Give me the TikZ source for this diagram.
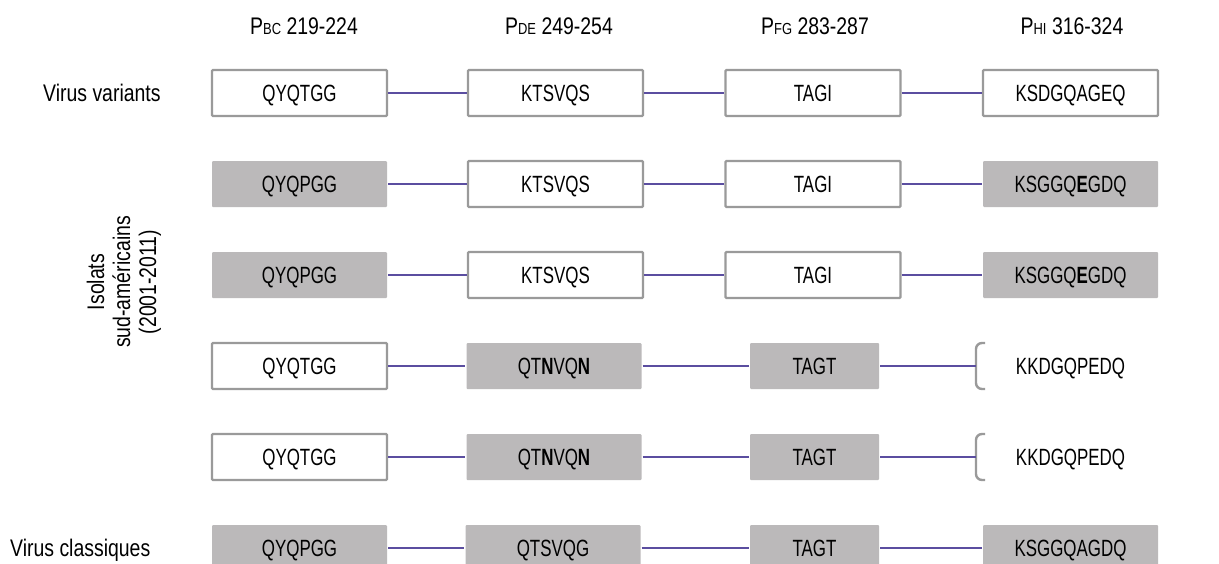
\documentclass[tikz,border=0pt]{standalone}
\usepackage{fontspec}
\setmainfont{Liberation Sans}[FakeStretch=0.81]
\newfontfamily\seqfont{Liberation Sans}[FakeStretch=0.72]
\newcommand{\subcaps}[1]{{\fontsize{16}{16}\selectfont #1}}
\begin{document}
\begin{tikzpicture}[x=1pt,y=-1pt]
  \tikzset{
    seqbox/.style={
      rectangle,
      draw=boxgray,
      line width=2.4pt,
      rounded corners=1pt,
      fill=white,
      minimum width=175pt,
      minimum height=46pt,
      inner sep=0pt,
      text height=16.8pt,
      text depth=0pt,
      font=\seqfont\fontsize{23.5}{23.5}\selectfont
    },
    seqfill/.style={
      seqbox,
      draw=none,
      fill=fillgray
    },
    shortfill/.style={
      seqfill,
      minimum width=129pt
    },
    link/.style={
      draw=linkpurple,
      line width=2.6pt
    },
    lbl/.style={
      inner sep=0pt,
      font=\fontsize{24}{26}\selectfont
    },
    onelbl/.style={
      lbl,
      text height=17pt,
      text depth=0pt
    }
  }
  \definecolor{boxgray}{HTML}{9A9A9A}
  \definecolor{fillgray}{HTML}{BBB9BA}
  \definecolor{linkpurple}{HTML}{5B4EA0}

  \useasboundingbox (0,0) rectangle (1219,563);

  % column headings
  \node[onelbl] (hA) at (304,26) {P\subcaps{BC} 219-224};
  \node[onelbl] (hB) at (559,26) {P\subcaps{DE} 249-254};
  \node[onelbl] (hC) at (815,26) {P\subcaps{FG} 283-287};
  \node[onelbl] (hD) at (1072,26) {P\subcaps{HI} 316-324};

  % row headings
  \node[onelbl,anchor=west] (vv) at (43,93) {Virus variants};
  \node[onelbl,anchor=west] (vc) at (10,548) {Virus classiques};
  \node[lbl,rotate=90,align=center] (iso) at (124,282)
    {Isolats\\sud-américains\\(2001-2011)};

  % row 1
  \node[seqbox] (a1) at (299.5,93) {QYQTGG};
  \node[seqbox] (b1) at (555.5,93) {KTSVQS};
  \node[seqbox] (c1) at (813,93) {TAGI};
  \node[seqbox] (d1) at (1070.5,93) {KSDGQAGEQ};

  % row 2
  \node[seqfill] (a2) at (299.5,184) {QYQPGG};
  \node[seqbox] (b2) at (555.5,184) {KTSVQS};
  \node[seqbox] (c2) at (813,184) {TAGI};
  \node[seqfill] (d2) at (1070.5,184) {KSGGQ\textbf{E}GDQ};

  % row 3
  \node[seqfill] (a3) at (299.5,275) {QYQPGG};
  \node[seqbox] (b3) at (555.5,275) {KTSVQS};
  \node[seqbox] (c3) at (813,275) {TAGI};
  \node[seqfill] (d3) at (1070.5,275) {KSGGQ\textbf{E}GDQ};

  % row 4
  \node[seqbox] (a4) at (299.5,366) {QYQTGG};
  \node[seqfill] (b4) at (554,366) {QT\textbf{N}VQ\textbf{N}};
  \node[shortfill] (c4) at (814.5,366) {TAGT};
  \node[seqfill,fill=none] (d4) at (1070.5,366) {KKDGQPEDQ};
  \coordinate (k4) at (976,366);
  \draw[draw=boxgray,line width=2.4pt,rounded corners=6pt]
    (985,343) -- (976,343) -- (976,389) -- (985,389);

  % row 5
  \node[seqbox] (a5) at (299.5,457) {QYQTGG};
  \node[seqfill] (b5) at (554,457) {QT\textbf{N}VQ\textbf{N}};
  \node[shortfill] (c5) at (814.5,457) {TAGT};
  \node[seqfill,fill=none] (d5) at (1070.5,457) {KKDGQPEDQ};
  \coordinate (k5) at (976,457);
  \draw[draw=boxgray,line width=2.4pt,rounded corners=6pt]
    (985,434) -- (976,434) -- (976,480) -- (985,480);

  % row 6
  \node[seqfill] (a6) at (299.5,548) {QYQPGG};
  \node[seqfill] (b6) at (553,548) {QTSVQG};
  \node[shortfill] (c6) at (814.5,548) {TAGT};
  \node[seqfill] (d6) at (1070.5,548) {KSGGQAGDQ};

  % links
  \draw[link] (a1) -- (b1);
  \draw[link] (b1) -- (c1);
  \draw[link] (c1) -- (d1);
  \draw[link] (a2) -- (b2);
  \draw[link] (b2) -- (c2);
  \draw[link] (c2) -- (d2);
  \draw[link] (a3) -- (b3);
  \draw[link] (b3) -- (c3);
  \draw[link] (c3) -- (d3);
  \draw[link] (a4) -- (b4);
  \draw[link] (b4) -- (c4);
  \draw[link] (c4) -- (k4);
  \draw[link] (a5) -- (b5);
  \draw[link] (b5) -- (c5);
  \draw[link] (c5) -- (k5);
  \draw[link] (a6) -- (b6);
  \draw[link] (b6) -- (c6);
  \draw[link] (c6) -- (d6);
\end{tikzpicture}
\end{document}
